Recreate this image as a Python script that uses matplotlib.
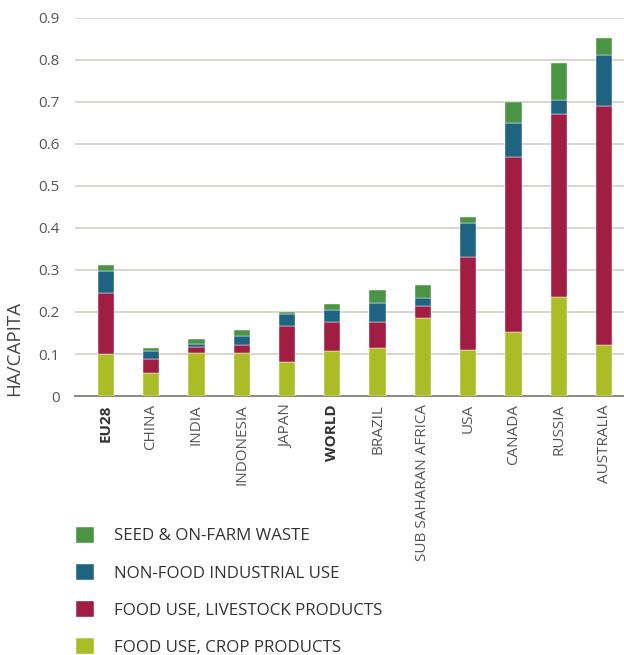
import numpy as np
import matplotlib
matplotlib.use("Agg")
import matplotlib.pyplot as plt

regions = ["EU28", "CHINA", "INDIA", "INDONESIA", "JAPAN", "WORLD", "BRAZIL",
           "SUB SAHARAN AFRICA", "USA", "CANADA", "RUSSIA", "AUSTRALIA"]
bold_regions = ["EU28", "WORLD"]

crop = [0.099, 0.054, 0.102, 0.102, 0.080, 0.106, 0.114, 0.186, 0.110, 0.152, 0.235, 0.121]
livestock = [0.146, 0.033, 0.015, 0.019, 0.086, 0.071, 0.063, 0.029, 0.222, 0.416, 0.437, 0.570]
nonfood = [0.053, 0.019, 0.008, 0.023, 0.030, 0.027, 0.045, 0.019, 0.081, 0.082, 0.033, 0.120]
seed = [0.015, 0.008, 0.011, 0.012, 0.004, 0.015, 0.031, 0.030, 0.012, 0.049, 0.088, 0.042]

series = [
    ("FOOD USE, CROP PRODUCTS", crop, "#aabd26"),
    ("FOOD USE, LIVESTOCK PRODUCTS", livestock, "#a11d44"),
    ("NON-FOOD INDUSTRIAL USE", nonfood, "#1e6482"),
    ("SEED & ON-FARM WASTE", seed, "#4b9443"),
]

plt.rcParams["font.family"] = ["Open Sans", "DejaVu Sans"]

fig = plt.figure(figsize=(6.24, 6.55), dpi=100)
ax = fig.add_axes([75 / 624, 1 - 396 / 655, 549 / 624, 378 / 655])

x = np.arange(len(regions))
bottom = np.zeros(len(regions))
handles = []
for label, vals, color in series:
    b = ax.bar(x, vals, width=0.36, bottom=bottom, color=color, label=label,
               edgecolor="white", linewidth=0.3, zorder=3)
    handles.append(b)
    bottom += np.array(vals)

ax.set_xlim(-0.68, 11.44)
ax.set_ylim(0, 0.9)
ax.set_yticks(np.arange(0, 0.91, 0.1))
ax.set_yticklabels(["0"] + [f"{v:.1f}" for v in np.arange(0.1, 0.91, 0.1)])
ax.yaxis.grid(True, color="#cfc9bf", linewidth=1.1, zorder=0)
ax.set_axisbelow(True)
for side in ["top", "right", "left"]:
    ax.spines[side].set_visible(False)
ax.spines["bottom"].set_color("#8c8780")
ax.spines["bottom"].set_linewidth(1.4)
ax.tick_params(axis="y", length=0, pad=11, labelsize=11, labelcolor="#555555")
ax.tick_params(axis="x", length=0, pad=6, labelsize=11)

ax.set_xticks(x)
ax.set_xticklabels(regions, rotation=90, va="top", ha="center")
for t in ax.get_xticklabels():
    if t.get_text() in bold_regions:
        t.set_fontweight("bold")
        t.set_color("#333333")
    else:
        t.set_color("#555555")

fig.text(14 / 624, 1 - 348 / 655, "HA/CAPITA", rotation=90, ha="center", va="center",
         fontsize=13.5, color="#444444")

fig.legend(handles=handles[::-1], labels=[s[0] for s in series[::-1]],
           loc="upper left", bbox_to_anchor=(69 / 624, 1 - 520 / 655),
           frameon=False, fontsize=12.2, handlelength=1.06, handleheight=1.06,
           handletextpad=1.18, labelspacing=1.15, labelcolor="#333333",
           borderaxespad=0)

fig.savefig("out.png", dpi=100)
